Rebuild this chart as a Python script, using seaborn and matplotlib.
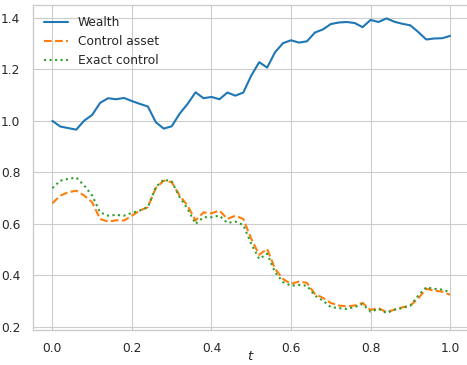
import numpy as np
import pandas as pd
import matplotlib
matplotlib.use("Agg")
import matplotlib.pyplot as plt
import seaborn as sns

t = [round(0.02 * i, 2) for i in range(51)]

wealth = [1.000, 0.978, 0.972, 0.966, 1.001, 1.023, 1.070, 1.088, 1.084, 1.089,
          1.077, 1.066, 1.056, 0.995, 0.970, 0.979, 1.028, 1.066, 1.111, 1.088,
          1.093, 1.084, 1.110, 1.098, 1.110, 1.176, 1.228, 1.207, 1.267, 1.302,
          1.313, 1.304, 1.309, 1.343, 1.355, 1.376, 1.382, 1.384, 1.380, 1.364,
          1.392, 1.384, 1.398, 1.385, 1.377, 1.371, 1.345, 1.316, 1.320, 1.321,
          1.330]

control_asset = [0.680, 0.710, 0.723, 0.729, 0.710, 0.684, 0.619, 0.609, 0.614, 0.613,
                 0.632, 0.652, 0.665, 0.739, 0.768, 0.762, 0.710, 0.671, 0.613, 0.645,
                 0.641, 0.652, 0.619, 0.632, 0.619, 0.542, 0.480, 0.503, 0.425, 0.386,
                 0.367, 0.376, 0.371, 0.328, 0.313, 0.293, 0.283, 0.280, 0.283, 0.293,
                 0.266, 0.273, 0.257, 0.267, 0.276, 0.283, 0.311, 0.348, 0.341, 0.337,
                 0.325]

exact_control = [0.739, 0.768, 0.775, 0.780, 0.749, 0.710, 0.645, 0.632, 0.635, 0.632,
                 0.643, 0.652, 0.665, 0.743, 0.772, 0.765, 0.704, 0.658, 0.600, 0.626,
                 0.626, 0.632, 0.604, 0.609, 0.596, 0.522, 0.464, 0.484, 0.412, 0.374,
                 0.360, 0.363, 0.360, 0.322, 0.302, 0.277, 0.273, 0.270, 0.277, 0.289,
                 0.259, 0.270, 0.254, 0.267, 0.273, 0.283, 0.322, 0.354, 0.348, 0.345,
                 0.335]

labels = ["Wealth", "Control asset", "Exact control"]

sns.set_theme(style="whitegrid", context="paper")
plt.rcParams['font.family'] = ['DejaVu Sans']

fig = plt.figure(figsize=(4.67, 3.65), dpi=100)
ax = fig.add_axes([32.5 / 467, 35 / 365, (470 - 32.5) / 467, (330 - 5) / 365])

pal = sns.color_palette("tab10")
series = [wealth, control_asset, exact_control]
styles = ["-", "--", ":"]
for i, (vals, lab, ls) in enumerate(zip(series, labels, styles)):
    df = pd.DataFrame({"t": t, "v": vals})
    sns.lineplot(data=df, x="t", y="v", ax=ax, color=pal[i], linestyle=ls,
                 linewidth=1.5, label=lab)

ax.set_xlim(-0.05, 1.05)
ax.set_ylim(0.188, 1.45)
ax.set_xticks([0.0, 0.2, 0.4, 0.6, 0.8, 1.0])
ax.set_yticks([0.2, 0.4, 0.6, 0.8, 1.0, 1.2, 1.4])
ax.set_xlabel("$t$", fontsize=9.6)
ax.xaxis.set_label_coords(0.5, -0.06)
ax.set_ylabel("")
ax.tick_params(labelsize=8.8, pad=4)
ax.legend(loc="upper left", fontsize=8.8, frameon=False)

fig.savefig("out.png", dpi=100)
